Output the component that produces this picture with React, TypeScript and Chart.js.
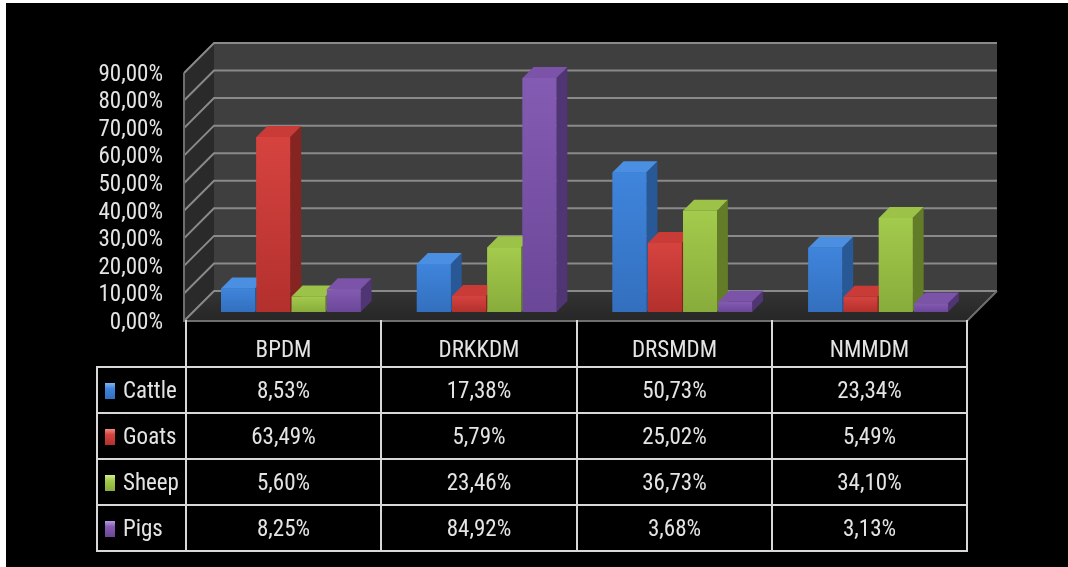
import React, { useEffect, useRef } from 'react';
import { Chart, registerables } from 'chart.js';

Chart.register(...registerables);

// ---- data ----
const categories = ['BPDM', 'DRKKDM', 'DRSMDM', 'NMMDM'];
const seriesNames = ['Cattle', 'Goats', 'Sheep', 'Pigs'];
const cattle = [8.53, 17.38, 50.73, 23.34];
const goats = [63.49, 5.79, 25.02, 5.49];
const sheep = [5.6, 23.46, 36.73, 34.1];
const pigs = [8.25, 84.92, 3.68, 3.13];
const yMin = 0;
const yMax = 90;
const yStep = 10;

const seriesValues = [cattle, goats, sheep, pigs];

// ---- styles ----
const frontTop = ['#3f85dc', '#d6433f', '#a3cb4c', '#845bb2'];
const frontBottom = ['#336fbe', '#b3302d', '#88ac3b', '#6b4798'];
const sideColors = ['#285896', '#862422', '#637c28', '#4f3574'];
const topColors = ['#4a8fe2', '#c93b37', '#9cc248', '#7b53a8'];
const markerLight = ['#7fb4f0', '#f08a86', '#d2ee8a', '#b89ae0'];

const FONT = "'Liberation Sans Narrow', 'Roboto Condensed', Roboto, sans-serif";
const FSIZE = 23;
const TEXT = '#e4e4e4';
const LINE = '#d8d8d8';

const WALL_DX = 30;
const WALL_DY = -30;
const BAR_OFF = 9;
const BAR_DEPTH = 11;

const fmt = (v: number) => v.toFixed(2).replace('.', ',') + '%';

const threeD = {
  id: 'threeD',
  beforeDatasetsDraw(chart: any) {
    const { ctx, chartArea: a } = chart;
    const y = chart.scales.y;
    const L = a.left, R = a.right, T = a.top, B = a.bottom;
    ctx.save();
    // side wall
    ctx.fillStyle = '#2a2a2a';
    ctx.beginPath();
    ctx.moveTo(L, T);
    ctx.lineTo(L + WALL_DX, T + WALL_DY);
    ctx.lineTo(L + WALL_DX, B + WALL_DY);
    ctx.lineTo(L, B);
    ctx.closePath();
    ctx.fill();
    // back wall
    ctx.fillStyle = '#3f3f3f';
    ctx.fillRect(L + WALL_DX, T + WALL_DY, R - L, B - T);
    // floor
    const fg = ctx.createLinearGradient(0, B + WALL_DY, 0, B);
    fg.addColorStop(0, '#343434');
    fg.addColorStop(1, '#262626');
    ctx.fillStyle = fg;
    ctx.beginPath();
    ctx.moveTo(L, B);
    ctx.lineTo(L + WALL_DX, B + WALL_DY);
    ctx.lineTo(R + WALL_DX, B + WALL_DY);
    ctx.lineTo(R, B);
    ctx.closePath();
    ctx.fill();
    // gridlines
    ctx.strokeStyle = '#8a8a8a';
    ctx.lineWidth = 2;
    for (const t of y.ticks) {
      const yy = y.getPixelForValue(t.value);
      ctx.beginPath();
      ctx.moveTo(L, yy);
      ctx.lineTo(L + WALL_DX, yy + WALL_DY);
      ctx.lineTo(R + WALL_DX, yy + WALL_DY);
      ctx.stroke();
    }
    // edges
    ctx.strokeStyle = '#6e6e6e';
    ctx.beginPath();
    ctx.moveTo(L, T);
    ctx.lineTo(L, B);
    ctx.lineTo(R, B);
    ctx.lineTo(R + WALL_DX, B + WALL_DY);
    ctx.stroke();
    ctx.restore();
    ctx.save();
    ctx.translate(BAR_OFF, -BAR_OFF);
  },
  afterDatasetsDraw(chart: any) {
    const ctx = chart.ctx;
    const n = chart.data.datasets.length;
    for (let i = 0; i < n; i++) {
      const meta = chart.getDatasetMeta(i);
      for (const el of meta.data) {
        const { x, y, base, width } = el as any;
        const l = x - width / 2;
        const r = x + width / 2;
        const d = BAR_DEPTH;
        // side
        ctx.fillStyle = sideColors[i];
        ctx.beginPath();
        ctx.moveTo(r, y);
        ctx.lineTo(r + d, y - d);
        ctx.lineTo(r + d, base - d);
        ctx.lineTo(r, base);
        ctx.closePath();
        ctx.fill();
        // top
        ctx.fillStyle = topColors[i];
        ctx.beginPath();
        ctx.moveTo(l, y);
        ctx.lineTo(l + d, y - d);
        ctx.lineTo(r + d, y - d);
        ctx.lineTo(r, y);
        ctx.closePath();
        ctx.fill();
        // front
        const g = ctx.createLinearGradient(0, y, 0, base);
        g.addColorStop(0, frontTop[i]);
        g.addColorStop(1, frontBottom[i]);
        ctx.fillStyle = g;
        ctx.fillRect(l, y, r - l, base - y);
      }
    }
    ctx.restore();
  },
};

const colX = [97, 186, 381, 577, 772, 967];
const rowY = [321, 367, 413, 459, 505, 551];

export default function App() {
  const ref = useRef<HTMLCanvasElement>(null);
  useEffect(() => {
    const chart = new Chart(ref.current as HTMLCanvasElement, {
      type: 'bar',
      data: {
        labels: categories,
        datasets: seriesValues.map((vals, i) => ({
          label: seriesNames[i],
          data: vals,
          backgroundColor: frontTop[i],
          borderWidth: 0,
          clip: false as any,
        })),
      },
      options: {
        responsive: false,
        animation: false,
        layout: { padding: { left: 0, top: 73, right: 101, bottom: 246 } },
        plugins: { legend: { display: false }, tooltip: { enabled: false } },
        datasets: { bar: { categoryPercentage: 0.72, barPercentage: 0.96 } },
        scales: {
          x: { display: false },
          y: {
            min: yMin,
            max: yMax,
            ticks: {
              stepSize: yStep,
              autoSkip: false,
              callback: (v: any) => fmt(Number(v)),
              color: TEXT,
              font: { family: FONT, size: FSIZE },
              padding: 21,
              labelOffset: 2,
            },
            grid: { display: false, drawTicks: false },
            border: { display: false },
            afterFit: (s: any) => {
              s.width = 184;
            },
          },
        },
      } as any,
      plugins: [threeD],
    });
    return () => chart.destroy();
  }, []);

  const lines: React.ReactNode[] = [];
  rowY.forEach((yy, i) => {
    if (i === 0) return;
    lines.push(
      <div key={'h' + i} style={{ position: 'absolute', left: colX[0] - 1, top: yy - 1, width: colX[5] - colX[0] + 2, height: 2, background: LINE }} />
    );
  });
  colX.forEach((xx, i) => {
    const top = i === 0 ? rowY[1] : rowY[0];
    lines.push(
      <div key={'v' + i} style={{ position: 'absolute', left: xx - 1, top: top - 1, width: 2, height: rowY[5] - top + 2, background: LINE }} />
    );
  });

  const cellText = (key: string, text: string, x0: number, x1: number, y0: number, y1: number, padTop = 0) => (
    <div
      key={key}
      style={{
        position: 'absolute',
        left: x0,
        top: y0 + padTop,
        width: x1 - x0,
        height: y1 - y0 - padTop,
        display: 'flex',
        alignItems: 'center',
        justifyContent: 'center',
        color: TEXT,
        fontFamily: FONT,
        fontSize: FSIZE,
        lineHeight: '26px',
      }}
    >
      {text}
    </div>
  );

  const texts: React.ReactNode[] = [];
  categories.forEach((c, j) => {
    texts.push(cellText('c' + j, c, colX[j + 1], colX[j + 2], rowY[0], rowY[1], 12));
  });
  seriesValues.forEach((vals, i) => {
    vals.forEach((v, j) => {
      texts.push(cellText('v' + i + '_' + j, fmt(v), colX[j + 1], colX[j + 2], rowY[i + 1], rowY[i + 2], 2));
    });
    texts.push(
      <div
        key={'lg' + i}
        style={{
          position: 'absolute',
          left: 105,
          top: rowY[i + 1] + 2,
          height: rowY[i + 2] - rowY[i + 1] - 2,
          display: 'flex',
          alignItems: 'center',
          color: TEXT,
          fontFamily: FONT,
          fontSize: FSIZE,
          lineHeight: '26px',
        }}
      >
        <span
          style={{
            display: 'inline-block',
            width: 10,
            height: 16,
            marginRight: 8,
            background: `linear-gradient(to bottom, ${markerLight[i]} 0%, ${frontTop[i]} 35%, ${frontBottom[i]} 100%)`,
          }}
        />
        {seriesNames[i]}
      </div>
    );
  });

  return (
    <div style={{ position: 'fixed', left: 0, top: 0, width: 1068, height: 567, background: '#ffffff', overflow: 'hidden' }}>
      <div style={{ position: 'absolute', left: 6, top: 3, right: 0, bottom: 0, background: '#000000' }} />
      <canvas ref={ref} width={1068} height={567} style={{ position: 'absolute', left: 0, top: 0, width: 1068, height: 567 }} />
      {lines}
      {texts}
    </div>
  );
}
